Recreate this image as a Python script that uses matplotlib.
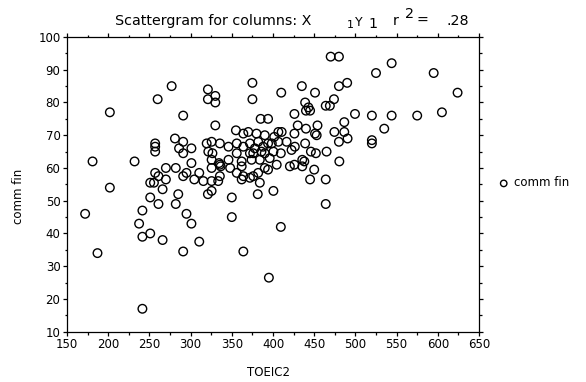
import matplotlib
matplotlib.use('Agg')
import matplotlib.pyplot as plt
from matplotlib.ticker import MultipleLocator

# ── DATA ──────────────────────────────────────────────────────────────────────
toeic2 = [
    277, 260, 321, 321, 330, 330, 375, 375, 470, 480, 544, 525, 595, 624, 435,
    451, 410, 480, 490, 474, 439, 443, 440, 445, 464, 469,
    202, 181, 202, 172, 187,
    291, 330, 232, 257, 257, 257, 281, 291, 286, 301, 291, 301, 270, 282, 257,
    261, 251, 255.5, 266, 270, 291, 295, 310.5, 304.5, 315.5, 251, 261, 241.5,
    285, 282, 237.5, 295, 301, 241.5, 251, 266, 291, 310.5, 364, 321, 325.5,
    350, 350,
    355, 364, 319.5, 325.5, 335.5, 346, 356, 364, 321.5, 326.5, 325.5, 335.5,
    336.5, 334.5, 346, 356, 362, 325.5, 348, 362, 335.5, 356, 362, 325.5,
    333.5, 364,
    385, 394, 426, 499.5, 486.5, 474.5, 486.5, 490.5, 480, 454, 430, 440, 451,
    453, 426, 406.5, 410.5, 401.5, 390, 380, 382, 372, 394, 398.5, 406.5,
    416.5, 426.5, 439, 446, 452, 465, 480.5, 372, 376, 386, 390, 400.5, 409.5,
    422.5, 374, 384, 390, 394, 404.5, 420.5, 426, 435.5, 438, 435.5, 450, 445,
    464, 464, 382, 376, 372, 384, 400.5, 381.5, 409.5, 370, 378, 388, 396,
    520, 544, 575, 605, 535, 520, 520,
    241.5, 395,
]
comm_fin = [
    85, 81, 84, 81, 82, 80, 86, 81, 94, 94, 92, 89, 89, 83, 85,
    83, 83, 85, 86, 81, 80, 78.5, 77.5, 77.5, 79, 79,
    77, 62, 54, 46, 34,
    76, 73, 62, 67.5, 66.5, 65, 69, 68, 66, 66, 64.5, 61.5, 60, 60, 58.5,
    57.5, 55.5, 55.5, 53.5, 56.5, 57.5, 58.5, 58.5, 56.5, 56, 51, 49, 47,
    52, 49, 43, 46, 43, 39, 40, 38, 34.5, 37.5, 34.5, 52, 53,
    51, 45,
    71.5, 70.5, 67.5, 68, 67.5, 66.5, 67.5, 66.5, 65, 64.5, 62.5, 61,
    60.5, 61.5, 62.5, 64.5, 62, 60, 60, 60.5, 57.5, 58.5, 56.5, 56,
    56, 57.5,
    75, 75, 76.5, 76.5, 74, 71, 71, 69, 68, 73, 73, 72, 70.5,
    70, 70.5, 71, 71, 69.5, 70, 70.5, 68, 67.5, 67.5, 67.5, 68,
    68, 66.5, 67.5, 65, 64.5, 65, 62, 64.5, 64.5, 65, 64.5, 65, 64.5,
    65.5, 62.5, 62.5, 60, 59.5, 61, 60.5, 61, 62.5, 62, 60.5, 59.5, 56.5,
    56.5, 49, 58.5, 57.5, 57, 55.5, 53, 52, 42, 71, 66, 66.5, 63,
    76, 76, 76, 77, 72, 68.5, 67.5,
    17, 26.5,
]

W, H = 586, 382

def fx(px):
    return px / W

def fy(py):
    return 1 - py / H

fig = plt.figure(figsize=(W / 100, H / 100), dpi=100)
ax = fig.add_axes([fx(67), fy(331.7), (479 - 67) / W, (331.7 - 37) / H])

ax.scatter(toeic2, comm_fin, s=38, facecolors='none', edgecolors='black',
           linewidths=1.0, label='comm fin', zorder=3)

ax.set_xlim(150, 650)
ax.set_ylim(10, 100)
ax.xaxis.set_major_locator(MultipleLocator(50))
ax.xaxis.set_minor_locator(MultipleLocator(25))
ax.yaxis.set_major_locator(MultipleLocator(10))
ax.yaxis.set_minor_locator(MultipleLocator(5))

for sp in ax.spines.values():
    sp.set_linewidth(0.9)
ax.tick_params(which='both', direction='out', top=True, right=True,
               width=0.9, labelsize=8.5, pad=1.5)
ax.tick_params(which='major', length=3.2)
ax.tick_params(which='minor', length=1.8)

ax.set_xlabel('TOEIC2', fontsize=8.5)
ax.xaxis.set_label_coords(0.488, -0.115)
fig.text(fx(19), fy(196), 'comm fin', rotation=90, fontsize=8.5,
         ha='center', va='center')

# title pieces, the subscripts sit where the original printed them
fs = 10.3
fig.text(fx(115), fy(25), 'Scattergram for columns: X', fontsize=fs, va='baseline')
fig.text(fx(346.5), fy(28.5), '1', fontsize=8, va='baseline')
fig.text(fx(355), fy(26), 'Y', fontsize=9, va='baseline')
fig.text(fx(368), fy(28.5), '1', fontsize=fs, va='baseline')
fig.text(fx(393), fy(25), 'r', fontsize=fs, va='baseline')
fig.text(fx(405), fy(18), '2', fontsize=fs, va='baseline')
fig.text(fx(417), fy(25), '=', fontsize=fs, va='baseline')
fig.text(fx(446), fy(25), '.28', fontsize=fs, va='baseline')

ax.legend(loc='center left', bbox_to_anchor=(fx(499), fy(183)),
          bbox_transform=fig.transFigure, frameon=False, fontsize=8.5,
          handlelength=0.8, handletextpad=0.5, borderpad=0, borderaxespad=0,
          markerscale=0.75)

fig.savefig('out.png', dpi=100)
